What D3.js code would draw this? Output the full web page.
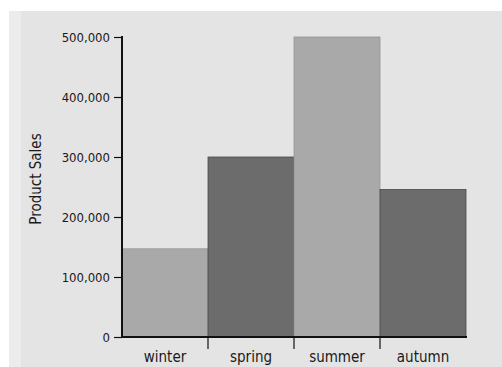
<!DOCTYPE html>
<html><head><meta charset="utf-8">
<script src="https://cdn.jsdelivr.net/npm/d3@7/dist/d3.min.js"></script>
<style>
html,body{margin:0;padding:0;background:#fff;}
svg{display:block;}
text{font-family:"Liberation Sans Narrow","Arial Narrow","DejaVu Sans Condensed",sans-serif;fill:#1a1a1a;}
</style></head>
<body><svg id="c" width="502" height="367"></svg>
<script>
const categories = ["winter","spring","summer","autumn"];
const sales = [147000, 300000, 500000, 246000];
const yTicks = [0, 100000, 200000, 300000, 400000, 500000];
const barColors = ["#a9a9a9","#6c6c6c","#a9a9a9","#6c6c6c"];

const svg = d3.select("#c");
svg.append("rect").attr("x",9).attr("y",11).attr("width",493).attr("height",356).attr("fill","#e4e4e4");
svg.append("rect").attr("x",9).attr("y",11).attr("width",12).attr("height",356).attr("fill","#ececec");

const x = d3.scaleBand().domain(categories).range([122,466]).padding(0);
const y = d3.scaleLinear().domain([0,500000]).range([337,37]);

svg.selectAll("rect.bar").data(categories).enter().append("rect")
  .attr("class","bar")
  .attr("x", d=>x(d))
  .attr("y", (d,i)=>y(sales[i]))
  .attr("width", x.bandwidth())
  .attr("height", (d,i)=>y(0)-y(sales[i]))
  .attr("fill", (d,i)=>barColors[i])
  .attr("stroke", (d,i)=> i%2 ? "#4a4a4a" : "#959595")
  .attr("stroke-width", 0.8);

// y axis
const yAxis = d3.axisLeft(y).tickValues(yTicks).tickSize(8).tickPadding(4)
  .tickFormat(d=> d===0 ? "0" : d3.format(",")(d));
const gy = svg.append("g").attr("transform","translate(122,0)").call(yAxis);
gy.select(".domain").attr("stroke","#111").attr("stroke-width",2).attr("d","M0,36V338");
gy.selectAll(".tick line").attr("stroke","#111").attr("stroke-width",1.2);
gy.selectAll(".tick text").style("font-size","13px").attr("fill","#1a1a1a");

// x axis
const xAxis = d3.axisBottom(x).tickSize(0).tickPadding(14);
const gx = svg.append("g").attr("transform","translate(0,337)").call(xAxis);
gx.select(".domain").attr("stroke","#111").attr("stroke-width",2.2).attr("d","M121,0H467");
gx.selectAll(".tick text").style("font-size","15px").attr("fill","#1a1a1a");
gx.selectAll("line.bnd").data(categories.slice(1)).enter().append("line")
  .attr("class","bnd")
  .attr("x1", d=>x(d)).attr("x2", d=>x(d))
  .attr("y1", 0).attr("y2", 12)
  .attr("stroke","#111").attr("stroke-width",1.2);

svg.append("text").attr("transform","translate(41,179) rotate(-90)")
  .attr("text-anchor","middle").style("font-size","15px").text("Product Sales");
</script></body></html>
